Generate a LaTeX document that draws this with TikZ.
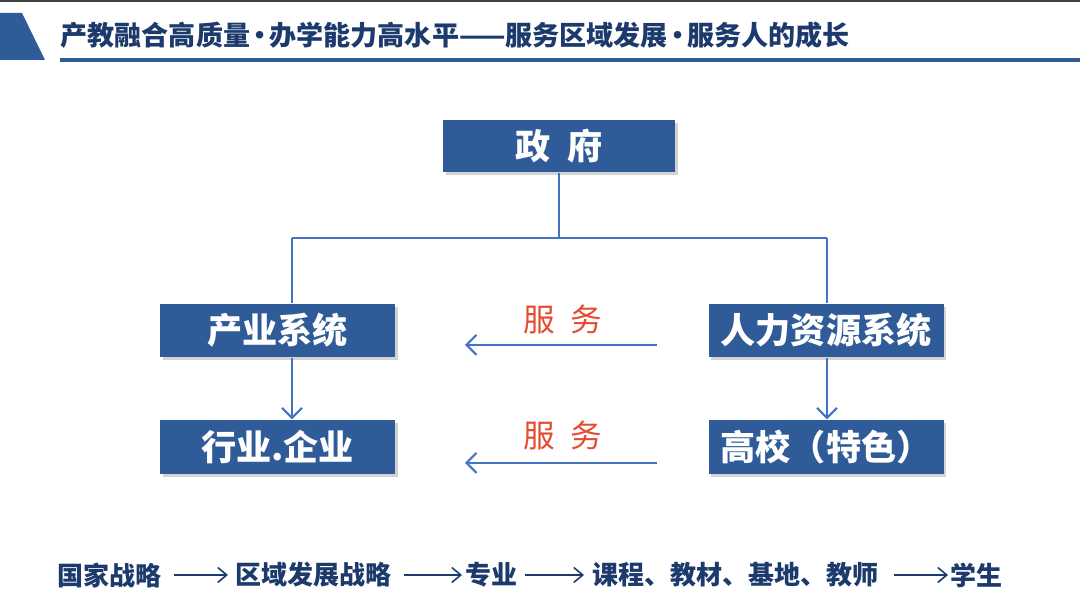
\documentclass[tikz,border=0pt]{standalone}
\usepackage{fontspec}
\setmainfont{Noto Sans CJK SC}
\usetikzlibrary{arrows.meta,shadows}

\definecolor{boxblue}{RGB}{47,92,152}
\definecolor{lineblue}{RGB}{68,114,196}
\definecolor{navy}{RGB}{28,58,108}
\definecolor{servred}{RGB}{228,76,50}

\begin{document}
\begin{tikzpicture}[x=1cm,y=1cm,
  blk/.style={fill=boxblue,text=white,minimum width=2.35cm,minimum height=0.53cm,
    inner sep=0pt,font=\fontsize{10}{10}\selectfont\bfseries,
    drop shadow={shadow xshift=0.8pt,shadow yshift=-0.8pt,opacity=0.35}},
  link/.style={lineblue,line width=0.6pt},
  arr/.style={lineblue,line width=0.6pt,-{Straight Barb[length=1mm,width=2mm]}},
  serv/.style={text=servred,font=\fontsize{9}{9}\selectfont},
  flow/.style={text=navy,anchor=west,inner sep=0pt,font=\fontsize{7.4}{7.4}\selectfont\bfseries},
  flowarr/.style={navy,line width=0.45pt,-{Straight Barb[length=0.9mm,width=1.5mm]}}]
\useasboundingbox (0,0) rectangle (10.8,6.13);

% header
\fill[black!75] (0,6.11) rectangle (10.8,6.13);
\fill[boxblue] (0,6.0) -- (0.22,6.0) -- (0.45,5.53) -- (0,5.53) -- cycle;
\node[anchor=west,inner sep=0pt,text=navy,font=\fontsize{7.7}{7.7}\selectfont\bfseries]
  (title) at (0.6,5.78) {产教融合高质量\kern-0.14em•\kern-0.14em办学能力高水平——服务区域发展\kern-0.14em•\kern-0.14em服务人的成长};
\draw[boxblue,line width=0.9pt] (0.6,5.53) -- (10.8,5.53);

% boxes
\node[blk,minimum width=2.32cm,minimum height=0.52cm] (zf) at (5.59,4.67) {政\hspace{0.5em}府};
\node[blk] (cy) at (2.775,2.825) {产业系统};
\node[blk] (rl) at (8.26,2.825) {人力资源系统};
\node[blk,minimum height=0.54cm] (hy) at (2.775,1.66) {行业.企业};
\node[blk,minimum height=0.54cm] (gx) at (8.26,1.66) {高校（特色）};

% tree
\coordinate (jl) at (2.92,3.75);
\coordinate (jr) at (8.27,3.75);
\draw[link] (zf.south) -- (zf.south |- jl);
\draw[link] (jl) -- (jr);
\draw[link] (jl) -- (jl |- cy.north);
\draw[link] (jr) -- (jr |- rl.north);
\draw[arr] (jl |- cy.south) -- (jl |- hy.north);
\draw[arr] (jr |- rl.south) -- (jr |- gx.north);

% service arrows
\coordinate (s1) at (6.57,2.68);
\coordinate (s2) at (6.57,1.50);
\draw[arr] (s1) -- (4.65,2.68);
\draw[arr] (s2) -- (4.65,1.50);
\node[serv] (fw1) at (5.63,2.94) {服\hspace{0.5em}务};
\node[serv] (fw2) at (5.63,1.78) {服\hspace{0.5em}务};

% bottom line
\node[flow] (gj) at (0.57,0.38) {国家战略};
\node[flow] (qy) at (2.35,0.38) {区域发展战略};
\node[flow] (zy) at (4.65,0.38) {专业};
\node[flow] (kc) at (5.92,0.38) {课程、教材、基地、教师};
\node[flow] (xs) at (9.50,0.38) {学生};
\draw[flowarr] (gj.east) ++(0.12,0) -- ([xshift=-0.07cm]qy.west);
\draw[flowarr] (qy.east) ++(0.12,0) -- ([xshift=-0.03cm]zy.west);
\draw[flowarr] (zy.east) ++(0.07,0) -- ([xshift=-0.08cm]kc.west);
\draw[flowarr] (kc.east) ++(0.14,0) -- ([xshift=-0.02cm]xs.west);
\end{tikzpicture}
\end{document}
